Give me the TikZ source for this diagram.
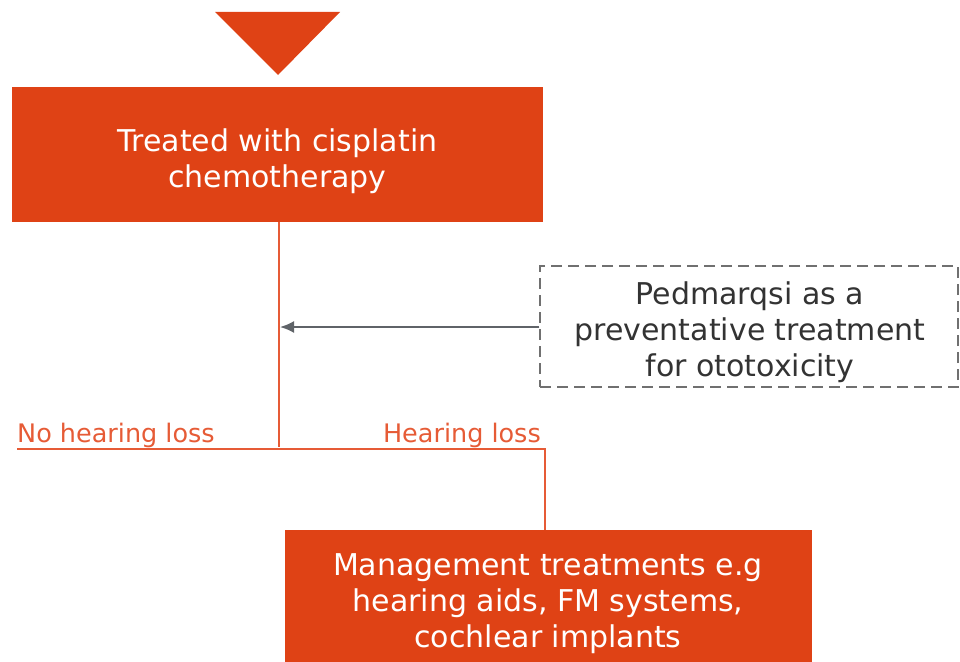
\documentclass[tikz,border=0pt]{standalone}
\usepackage{fontspec}
\setmainfont{DejaVu Sans}
\usetikzlibrary{arrows.meta}
\definecolor{brand}{HTML}{DF4215}
\definecolor{linec}{HTML}{E65B36}
\definecolor{arrowc}{HTML}{5F6368}
\definecolor{dashc}{HTML}{707070}
\definecolor{txtc}{HTML}{333333}
\tikzset{
  mainbox/.style={fill=brand, draw=none, inner sep=0pt},
  maintext/.style={text=white, align=center, font=\fontsize{30}{36}\selectfont, inner sep=0pt},
  dashbox/.style={draw=dashc, line width=1.4pt, dash pattern=on 11pt off 6pt, inner sep=0pt},
  dashtext/.style={text=txtc, align=center, font=\fontsize{30}{36}\selectfont, inner sep=0pt},
  flow/.style={draw=linec, line width=2pt},
  lbl/.style={text=linec, font=\fontsize{25.5}{30}\selectfont, inner sep=0pt},
  feed/.style={draw=arrowc, line width=2pt, -{Latex[length=14pt,width=12pt]}}
}
\begin{document}
\begin{tikzpicture}[x=1pt,y=-1pt]
\useasboundingbox (0,0) rectangle (960,661);
\clip (0,0) rectangle (960,661);
% top triangle
\fill[brand] (215,12) -- (340,12) -- (278,75) -- cycle;
% box 1
\node[mainbox, minimum width=531pt, minimum height=135pt] (treat) at (277.5,154.5) {};
\node[maintext] (treattxt) at (277.5,161) {Treated with cisplatin\\chemotherapy};
% dashed box
\node[dashbox, minimum width=418pt, minimum height=121pt] (ped) at (749,326.5) {};
\node[dashtext] (pedtxt) at (750,332) {Pedmarqsi as a\\preventative treatment\\for ototoxicity};
% box 2
\node[mainbox, minimum width=527pt, minimum height=140pt, anchor=north] (manage) at (548.5,530) {};
\node[maintext] (managetxt) at (548,604) {Management treatments e.g\\hearing aids, FM systems,\\cochlear implants};
% connectors
\coordinate (split) at (279,447);
\coordinate (leftend) at (17,449);
\coordinate (corner) at (545,449);
\draw[flow] (treat.south -| split) -- (split);
\draw[flow] (leftend) -- (corner) -- (manage.north -| corner);
\coordinate (arrtip) at (280,327);
\draw[feed] (ped.west |- arrtip) -- (arrtip);
% labels
\node[lbl, anchor=base west] (nolbl) at (17,442) {No hearing loss};
\node[lbl, anchor=base east] (yeslbl) at (541,442) {Hearing loss};
\end{tikzpicture}
\end{document}
